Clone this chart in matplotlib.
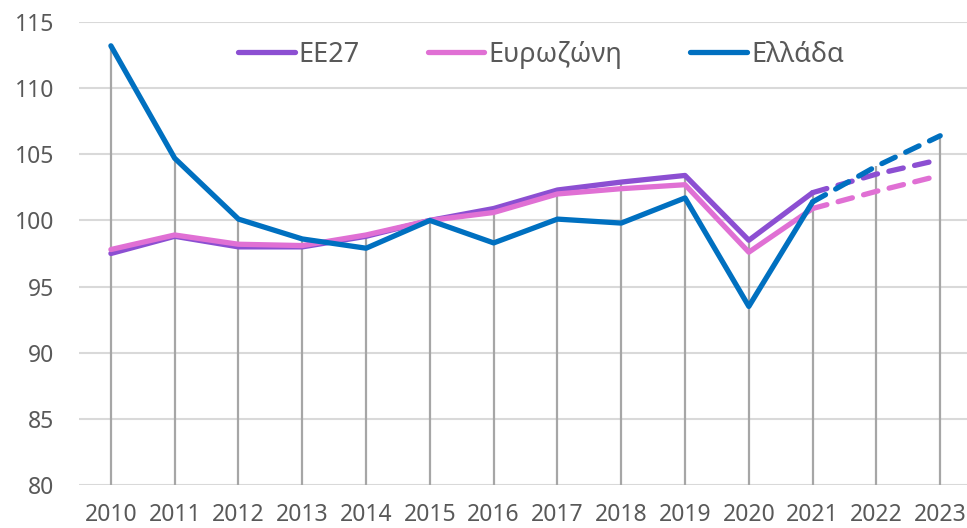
import numpy as np
import matplotlib.pyplot as plt

plt.rcParams['font.family'] = ['Noto Sans', 'DejaVu Sans']

# years and series
years = [2010, 2011, 2012, 2013, 2014, 2015, 2016, 2017, 2018, 2019, 2020, 2021]
fc_years = [2021, 2022, 2023]

ee27 = [97.5, 98.8, 98.0, 98.0, 98.8, 100.0, 100.9, 102.3, 102.9, 103.4, 98.5, 102.1]
euro = [97.8, 98.9, 98.2, 98.1, 98.9, 100.0, 100.6, 102.0, 102.4, 102.7, 97.6, 100.9]
greece = [113.2, 104.7, 100.1, 98.6, 97.9, 100.0, 98.3, 100.1, 99.8, 101.7, 93.5, 101.4]

ee27_fc = [102.1, 103.5, 104.6]
euro_fc = [100.9, 102.2, 103.4]
greece_fc = [101.4, 104.1, 106.4]

c_ee27 = '#8C4FD2'
c_euro = '#E070D4'
c_gr = '#0070C0'
lw = 3.8

fig = plt.figure(figsize=(9.67, 5.28), dpi=100)
ax = fig.add_axes([79 / 967, 43 / 528, 1 - 79 / 967, 463 / 528])

# drop lines down to the axis
all_years = years + fc_years[1:]
tops = [max(a, b, c) for a, b, c in zip(ee27, euro, greece)]
tops += [max(a, b, c) for a, b, c in zip(ee27_fc[1:], euro_fc[1:], greece_fc[1:])]
ax.vlines(all_years, 80, tops, color='#a6a6a6', lw=1.6, zorder=1)

for v in range(80, 116, 5):
    ax.axhline(v, color='#d9d9d9', lw=1.5, zorder=0)

ax.plot(years, ee27, color=c_ee27, lw=lw, solid_capstyle='round', solid_joinstyle='round', label='ΕΕ27', zorder=3)
ax.plot(years, euro, color=c_euro, lw=lw, solid_capstyle='round', solid_joinstyle='round', label='Ευρωζώνη', zorder=3)
ax.plot(years, greece, color=c_gr, lw=lw, solid_capstyle='round', solid_joinstyle='round', label='Ελλάδα', zorder=4)

ax.plot(fc_years, ee27_fc, color=c_ee27, lw=lw, dashes=(2.8, 2.2), dash_capstyle='round', zorder=3)
ax.plot(fc_years, euro_fc, color=c_euro, lw=lw, dashes=(2.8, 2.2), dash_capstyle='round', zorder=3)
ax.plot(fc_years, greece_fc, color=c_gr, lw=lw, dashes=(2.8, 2.2), dash_capstyle='round', zorder=4)

ax.set_xlim(2009.5, 2023.42)
ax.set_ylim(80, 115)
ax.set_yticks(range(80, 116, 5))
ax.set_xticks(all_years)
ax.tick_params(length=0, labelsize=16.5, colors='#595959')
ax.tick_params(axis='y', pad=18)
ax.tick_params(axis='x', pad=13)
for s in ax.spines.values():
    s.set_visible(False)

leg = ax.legend(loc='center', bbox_to_anchor=(0.52, 0.929), ncol=3, frameon=False,
                fontsize=19.5, handlelength=2.1, handletextpad=0.15, columnspacing=2.5)
for t in leg.get_texts():
    t.set_color('#595959')

fig.savefig('out.png', dpi=100)
